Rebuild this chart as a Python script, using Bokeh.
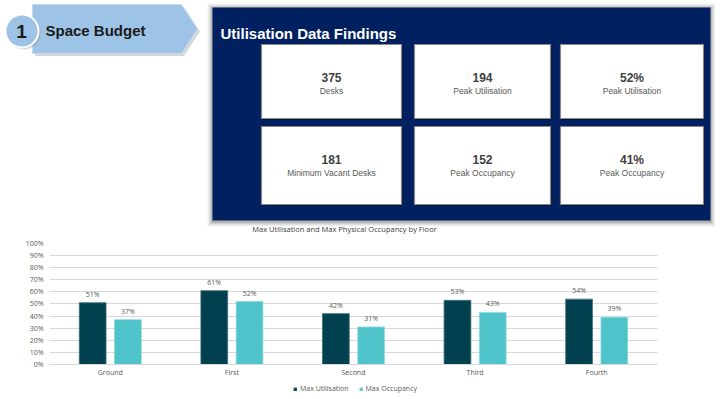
from bokeh.plotting import figure
from bokeh.models import (Range1d, FactorRange, ColumnDataSource, LabelSet, Legend, LegendItem,
                          FixedTicker, PrintfTickFormatter)
from bokeh.transform import dodge
from bokeh.core.properties import value
from bokeh.embed import file_html
from bokeh.resources import INLINE

# ---------------- data ----------------
floors = ["Ground", "First", "Second", "Third", "Fourth"]
max_utilisation = [51, 61, 42, 53, 54]
max_occupancy = [37, 52, 31, 43, 39]
y_ticks = [0, 10, 20, 30, 40, 50, 60, 70, 80, 90, 100]
series_names = ["Max Utilisation", "Max Occupancy"]
chart_title = "Max Utilisation and Max Physical Occupancy by Floor"

card_values = ["375", "194", "52%", "181", "152", "41%"]
card_labels = ["Desks", "Peak Utilisation", "Peak Utilisation",
               "Minimum Vacant Desks", "Peak Occupancy", "Peak Occupancy"]
section_number = "1"
section_title = "Space Budget"
panel_title = "Utilisation Data Findings"

# ---------------- style ----------------
W = 723
TOP_H = 234
NAVY = "#002060"
BANNER = "#9DC3E6"
DARK = "#01404F"
LIGHT = "#4EC3CA"
GRID = "#d9d9d9"
TXT = "#595959"
ARIAL = "Liberation Sans"
SEGOE = "Open Sans"

# ---------------- top dashboard ----------------
top = figure(width=W, height=TOP_H, x_range=Range1d(0, W), y_range=Range1d(TOP_H, 0),
             output_backend="svg", toolbar_location=None, min_border=0,
             x_axis_location=None, y_axis_location=None)
top.grid.visible = False
top.outline_line_color = None
top.background_fill_color = "white"
top.border_fill_color = "white"

# banner arrow
bx = [32, 181, 197, 181, 32]
by = [4, 4, 28.5, 53, 53]
top.patch([x + 2.5 for x in bx], [y + 2.5 for y in by], fill_color="#8c8c8c", fill_alpha=0.35, line_color=None)
top.patch(bx, by, fill_color=BANNER, line_color="#c6dcf0", line_width=1)
# number circle
top.circle(x=[23.5], y=[32.5], radius=16.5, fill_color="#8c8c8c", fill_alpha=0.35, line_color=None)
top.circle(x=[21.5], y=[30.5], radius=16.5, fill_color=BANNER, line_color="white", line_width=2)
top.text(x=[21], y=[31], text=[section_number], text_font=value(ARIAL), text_font_style="bold",
         text_font_size="19px", text_color="#1a1a1a", text_align="center", text_baseline="middle")
top.text(x=[45], y=[29.5], text=[section_title], text_font=value(ARIAL), text_font_style="bold",
         text_font_size="15px", text_color="#1a1a1a", text_align="left", text_baseline="middle")

# navy panel with soft shadow
PL, PR, PT, PB = 212, 710, 7, 220
for i, a in [(5, 0.06), (4, 0.08), (3, 0.1), (2, 0.14), (1, 0.2)]:
    top.quad(left=[PL - i], right=[PR + i], top=[PT - i + 1], bottom=[PB + i + 1],
             fill_color="#555555", fill_alpha=a, line_color=None)
top.quad(left=[PL], right=[PR], top=[PT], bottom=[PB], fill_color=NAVY, line_color=None)
top.text(x=[220], y=[33], text=[panel_title], text_font=value(ARIAL), text_font_style="bold",
         text_font_size="15px", text_color="white", text_align="left", text_baseline="middle")

# cards
col_left = [261, 414, 560]
col_right = [401, 550, 703]
row_top = [44, 126]
row_bottom = [118, 204]
lefts, rights, tops, bottoms, cx, vy, ly = [], [], [], [], [], [], []
for r in range(2):
    for c in range(3):
        lefts.append(col_left[c]); rights.append(col_right[c])
        tops.append(row_top[r]); bottoms.append(row_bottom[r])
        cx.append((col_left[c] + col_right[c]) / 2)
        vy.append(row_top[r] + 33)
        ly.append(row_top[r] + 46)
top.quad(left=[l + 1.5 for l in lefts], right=[x + 1.5 for x in rights],
         top=[t + 1.5 for t in tops], bottom=[b + 1.5 for b in bottoms],
         fill_color="#000000", fill_alpha=0.35, line_color=None)
top.quad(left=lefts, right=rights, top=tops, bottom=bottoms,
         fill_color="white", line_color="#8a8a8a", line_width=1.2)
top.text(x=cx, y=vy, text=card_values, text_font=value(ARIAL), text_font_style="bold",
         text_font_size="12px", text_color="#404040", text_align="center", text_baseline="middle")
top.text(x=cx, y=ly, text=card_labels, text_font=value(ARIAL),
         text_font_size="8.5px", text_color=TXT, text_align="center", text_baseline="middle")

# chart title (sits just under the panel)
top.text(x=[344], y=[228], text=[chart_title], text_font=value(SEGOE),
         text_font_size="7.5px", text_color="#404040", text_align="center", text_baseline="middle")

# ---------------- bar chart ----------------
src = ColumnDataSource(dict(
    floor=floors, util=max_utilisation, occ=max_occupancy,
    util_lbl=[f"{v}%" for v in max_utilisation],
    occ_lbl=[f"{v}%" for v in max_occupancy],
))

# frame runs from the 100% line down to the window bottom; the category axis is pinned at 0%
p = figure(frame_width=608, frame_height=156, x_range=FactorRange(*floors), y_range=Range1d(-29, 100),
           output_backend="svg", toolbar_location=None,
           min_border_left=49, min_border_right=66, min_border_top=9, min_border_bottom=0)
p.outline_line_color = None
p.background_fill_color = "white"
p.border_fill_color = "white"

r1 = p.vbar(x=dodge("floor", -0.145, range=p.x_range), top="util", width=0.22, source=src,
            fill_color=DARK, line_color="#3d6f7a", line_width=0.8)
r2 = p.vbar(x=dodge("floor", 0.145, range=p.x_range), top="occ", width=0.22, source=src,
            fill_color=LIGHT, line_color="#8edbde", line_width=0.8)

for xo, fld in [(-0.145, "util"), (0.145, "occ")]:
    p.add_layout(LabelSet(x=dodge("floor", xo, range=p.x_range), y=fld, text=fld + "_lbl", source=src,
                          y_offset=4, text_align="center", text_baseline="bottom",
                          text_font=value(SEGOE), text_font_size="7px", text_color=TXT))

p.yaxis.ticker = FixedTicker(ticks=y_ticks)
p.yaxis.formatter = PrintfTickFormatter(format="%d%%")
p.yaxis.axis_line_color = None
p.yaxis.major_tick_line_color = None
p.yaxis.minor_tick_line_color = None
p.yaxis.major_tick_out = 0
p.yaxis.major_tick_in = 0
p.yaxis.major_label_standoff = 6
p.yaxis.major_label_text_font = SEGOE
p.yaxis.major_label_text_font_size = "7px"
p.yaxis.major_label_text_color = TXT
p.ygrid.ticker = FixedTicker(ticks=y_ticks)
p.ygrid.grid_line_color = GRID
p.xgrid.grid_line_color = None

p.xaxis.fixed_location = 0
p.xaxis.axis_line_color = GRID
p.xaxis.major_tick_line_color = None
p.xaxis.major_tick_out = 0
p.xaxis.major_tick_in = 0
p.xaxis.major_label_standoff = 4
p.xaxis.major_label_text_font = SEGOE
p.xaxis.major_label_text_font_size = "7px"
p.xaxis.major_label_text_color = TXT

legend = Legend(items=[LegendItem(label=series_names[0], renderers=[r1]),
                       LegendItem(label=series_names[1], renderers=[r2])],
                orientation="horizontal", location=(244, 6),
                label_text_font=SEGOE, label_text_font_size="7px", label_text_color=TXT,
                glyph_width=4, glyph_height=4, label_height=8, label_standoff=3,
                spacing=10, padding=0, margin=0, border_line_color=None,
                background_fill_alpha=0)
p.add_layout(legend, "center")

open("out.html", "w").write(file_html([top, p], INLINE))
